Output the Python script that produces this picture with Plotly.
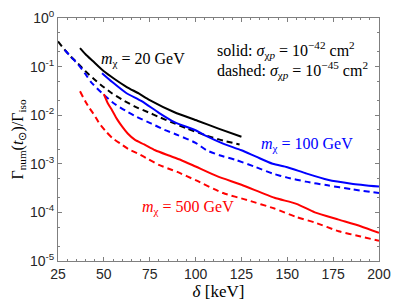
import plotly.graph_objects as go

# 20 GeV
d20_solid = [37, 40, 44, 50, 56, 62.5, 69, 75, 88.5, 101, 112.5, 125]
g20_solid = [0.24, 0.18, 0.13, 0.08, 0.055, 0.038, 0.028, 0.0205, 0.0115, 0.0077, 0.0053, 0.0036]
d20_dash = [25, 28.7, 32, 36, 40, 44, 48.4, 54, 59.9, 67, 74.2, 80, 86.7, 95, 105, 115, 124]
g20_dash = [0.33, 0.22, 0.16, 0.115, 0.08, 0.058, 0.042, 0.029, 0.021, 0.015, 0.0115, 0.0092,
            0.0072, 0.0054, 0.0039, 0.0030, 0.0025]
# 100 GeV
d100_solid = [49, 54.6, 62, 70.6, 80, 88.5, 100, 106, 115, 125, 133, 142, 150, 160, 172, 185, 200]
g100_solid = [0.073, 0.048, 0.029, 0.0195, 0.0112, 0.0072, 0.0049, 0.0037, 0.0026, 0.0019,
              0.0014, 0.0010, 0.00085, 0.00064, 0.00047, 0.00039, 0.00034]
d100_dash = [28.7, 32, 36, 40, 43, 49.2, 55, 61.8, 68, 76, 83, 90.3, 100, 106, 113, 122, 133,
             142, 150, 160, 172, 185, 200]
g100_dash = [0.22, 0.16, 0.11, 0.07, 0.048, 0.028, 0.018, 0.0124, 0.0092, 0.0067, 0.0050, 0.0039,
             0.0027, 0.0019, 0.0015, 0.0012, 0.00085, 0.00063, 0.00052, 0.00043, 0.00036,
             0.00030, 0.00025]
# 500 GeV
d500_solid = [50, 52, 54.6, 57, 60, 63, 67, 72, 78, 85, 92, 100, 112, 125, 143, 155, 165, 178,
              190, 200]
g500_solid = [0.027, 0.018, 0.0124, 0.0085, 0.0058, 0.0042, 0.0031, 0.0025, 0.0019, 0.0015,
              0.0012, 0.00088, 0.00055, 0.00037, 0.0002, 0.00015, 0.0001, 0.000071, 0.000052,
              0.000038]
d500_dash = [37, 40, 42, 45, 47.5, 51, 54.6, 59, 63.5, 69, 74, 80, 85, 90, 100, 115, 128, 143,
             155, 165, 178, 190, 200]
g500_dash = [0.031, 0.019, 0.0143, 0.0098, 0.0068, 0.0047, 0.0034, 0.0026, 0.0020, 0.0016,
             0.00126, 0.00095, 0.00080, 0.00068, 0.00046, 0.00025, 0.00018, 0.00012, 0.00008,
             0.000062, 0.000041, 0.000032, 0.000026]

x_ticks = [25, 50, 75, 100, 125, 150, 175, 200]
y_tickvals = [1, 0.1, 0.01, 0.001, 1e-4, 1e-5]
y_ticktext = ["10<sup>0</sup>", "10<sup>-1</sup>", "10<sup>-2</sup>", "10<sup>-3</sup>",
              "10<sup>-4</sup>", "10<sup>-5</sup>"]

BLACK, BLUE, RED = "#000000", "#0000ff", "#ff0000"
DASH = "6px,4px"
LW = 2

fig = go.Figure()
series = [
    (d20_dash, g20_dash, BLACK, DASH),
    (d100_dash, g100_dash, BLUE, DASH),
    (d500_dash, g500_dash, RED, DASH),
    (d20_solid, g20_solid, BLACK, "solid"),
    (d100_solid, g100_solid, BLUE, "solid"),
    (d500_solid, g500_solid, RED, "solid"),
]
for xs, ys, c, dsh in series:
    fig.add_trace(go.Scatter(x=xs, y=ys, mode="lines",
                             line=dict(color=c, width=LW, dash=dsh, shape="spline", smoothing=0.6),
                             showlegend=False, hoverinfo="skip"))

SERIF = "Liberation Serif"
ann_font = 16
annotations = [
    dict(x=71.5, y=-0.861, text="<i>m</i><sub>χ</sub> = 20 GeV", color=BLACK, xanchor="center"),
    dict(x=110.6, y=-0.663, text="solid: <i>σ</i><sub>χ<i>p</i></sub> = 10<sup>−42</sup> cm<sup>2</sup>", color=BLACK, xanchor="left"),
    dict(x=110.6, y=-1.06, text="dashed: <i>σ</i><sub>χ<i>p</i></sub> = 10<sup>−45</sup> cm<sup>2</sup>", color=BLACK, xanchor="left"),
    dict(x=134.7, y=-2.604, text="<i>m</i><sub>χ</sub> = 100 GeV", color=BLUE, xanchor="left"),
    dict(x=69.9, y=-3.89, text="<i>m</i><sub>χ</sub> = 500 GeV", color=RED, xanchor="left"),
]
for a in annotations:
    fig.add_annotation(x=a["x"], y=a["y"], xref="x", yref="y", text=a["text"], showarrow=False,
                       xanchor=a["xanchor"], yanchor="middle",
                       font=dict(family=SERIF, size=ann_font, color=a["color"]))

axis_common = dict(showline=True, linecolor="#7f7f7f", linewidth=1, mirror="ticks", ticks="inside",
                   tickcolor="#7f7f7f", ticklen=4, showgrid=False, zeroline=False,
                   ticklabeloverflow="allow",
                   tickfont=dict(family="Liberation Sans", size=14, color="#262626"))

fig.update_xaxes(range=[25, 200], tickvals=x_ticks, ticktext=[str(v) for v in x_ticks],
                 minor=dict(ticks="inside", ticklen=2, dtick=5, tickcolor="#7f7f7f", showgrid=False),
                 title=dict(text="<i>δ</i> [keV]", font=dict(family=SERIF, size=17, color="#000"), standoff=3),
                 **axis_common)
fig.update_yaxes(type="log", range=[-5, 0], tickvals=y_tickvals, ticktext=y_ticktext,
                 minor=dict(ticks="inside", ticklen=2, tickcolor="#7f7f7f", showgrid=False),
                 title=dict(text="Γ<sub>num</sub>(<i>t</i><sub>⊙</sub>)/Γ<sub>iso</sub>",
                            font=dict(family=SERIF, size=16, color="#000"), standoff=2),
                 **axis_common)

fig.update_layout(width=399, height=306, margin=dict(l=58, r=14, t=8, b=45),
                  plot_bgcolor="white", paper_bgcolor="white")

fig.write_html("out.html", config={"displayModeBar": False},
               post_script="document.body.style.margin='0';document.body.style.overflow='hidden';")
